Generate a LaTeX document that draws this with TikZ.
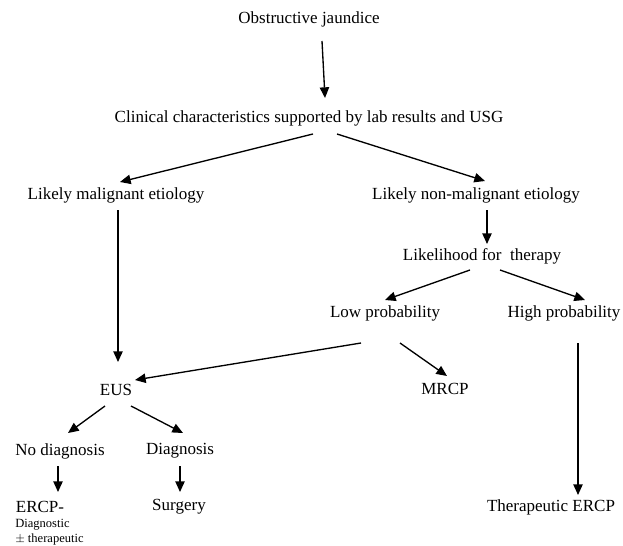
\documentclass[tikz,border=0pt]{standalone}
\usepackage{fontspec}
\setmainfont{Liberation Serif}
\usetikzlibrary{arrows.meta}
\begin{document}
\begin{tikzpicture}[x=0.75pt,y=-0.75pt,
  lbl/.style={inner sep=0pt,font=\fontsize{12.75}{14}\selectfont},
  sml/.style={inner sep=0pt,anchor=west,font=\fontsize{9.4}{11}\selectfont},
  arr/.style={-{Triangle[length=8pt,width=7pt]},line width=1pt}]
\useasboundingbox (0,0) rectangle (623,545);
\node[lbl] (oj) at (309,19) {Obstructive jaundice};
\node[lbl] (cc) at (309,118) {Clinical characteristics supported by lab results and USG};
\node[lbl] (lm) at (116,195) {Likely malignant etiology};
\node[lbl] (ln) at (476,195) {Likely non-malignant etiology};
\node[lbl] (lt) at (482,256) {Likelihood for\ \ therapy};
\node[lbl] (lp) at (385,313) {Low probability};
\node[lbl] (hp) at (564,313) {High probability};
\node[lbl] (eus) at (116,390) {EUS};
\node[lbl] (mrcp) at (445,389) {MRCP};
\node[lbl] (nd) at (60,451) {No diagnosis};
\node[lbl] (dg) at (180,451) {Diagnosis};
\node[lbl] (ercp) at (40,507) {ERCP-};
\node[sml] (dx) at (15,525) {Diagnostic};
\node[sml] (tx) at (15,539) {$\pm$ therapeutic};
\node[lbl] (sg) at (179,507) {Surgery};
\node[lbl] (te) at (551,507) {Therapeutic ERCP};

\coordinate (a1) at (322,41); \coordinate (b1) at (325,98);
\draw[arr] (a1) -- (b1);
\coordinate (a2) at (313,134); \coordinate (b2) at (120,182);
\draw[arr] (a2) -- (b2);
\coordinate (a3) at (337,134); \coordinate (b3) at (485,181);
\draw[arr] (a3) -- (b3);
\coordinate (a4) at (487,210); \coordinate (b4) at (487,244);
\draw[arr] (a4) -- (b4);
\coordinate (a5) at (470,270); \coordinate (b5) at (385,300);
\coordinate (a5b) at (500,270); \coordinate (c5) at (585,300);
\draw[arr] (a5) -- (b5);
\draw[arr] (a5b) -- (c5);
\coordinate (a6) at (118,210); \coordinate (b6) at (118,362);
\draw[arr] (a6) -- (b6);
\coordinate (a7) at (361,343); \coordinate (b7) at (135,380);
\draw[arr] (a7) -- (b7);
\coordinate (a8) at (400,343); \coordinate (b8) at (447,376);
\draw[arr] (a8) -- (b8);
\coordinate (a9) at (578,343); \coordinate (b9) at (578,495);
\draw[arr] (a9) -- (b9);
\coordinate (a10) at (105,406); \coordinate (b10) at (68,433);
\draw[arr] (a10) -- (b10);
\coordinate (a11) at (131,406); \coordinate (b11) at (183,433);
\draw[arr] (a11) -- (b11);
\coordinate (a12) at (58,466); \coordinate (b12) at (58,492);
\draw[arr] (a12) -- (b12);
\coordinate (a13) at (180,466); \coordinate (b13) at (180,492);
\draw[arr] (a13) -- (b13);
\end{tikzpicture}
\end{document}
